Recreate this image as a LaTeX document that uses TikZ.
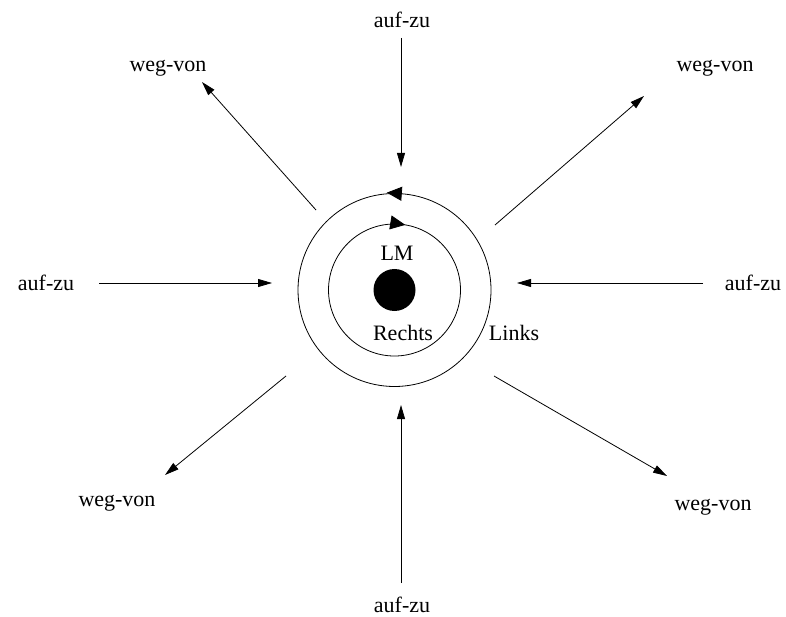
\documentclass[tikz,border=0pt]{standalone}
\usepackage{fontspec}
\setmainfont{Liberation Serif}
\usetikzlibrary{arrows.meta,decorations.markings}
\tikzset{
  lbl/.style={font=\fontsize{22}{26}\selectfont, inner sep=0pt},
  arr/.style={-{Triangle[length=14pt,width=8pt]}, line width=0.8pt},
  ring/.style={line width=0.8pt},
  ringarr/.style={ring, postaction={decorate}, decoration={markings, mark=at position #1 with {\arrow{Triangle[length=15pt,width=14pt]}}}},
  ringarrrev/.style={ring, postaction={decorate}, decoration={markings, mark=at position #1 with {\arrow{Triangle[length=15pt,width=14pt,reversed]}}}}
}
\begin{document}
\begin{tikzpicture}[x=1pt, y=-1pt]
  \useasboundingbox (0,0) rectangle (786,617);
  % centre
  \node[circle, fill=black, minimum size=42pt, inner sep=0pt] (lm) at (394.5,290) {};
  \draw[ringarrrev=0.762] (lm) circle[radius=96.5];
  \draw[ringarr=0.776] (lm) circle[radius=66];
  \node[lbl] (lmtxt) at (397,253) {LM};
  \node[lbl] (re) at (403,333) {Rechts};
  \node[lbl] (li) at (514,333) {Links};
  % labels
  \node[lbl] (az-n) at (402,20) {auf-zu};
  \node[lbl] (az-s) at (402,605) {auf-zu};
  \node[lbl] (az-w) at (46,283) {auf-zu};
  \node[lbl] (az-e) at (753,283) {auf-zu};
  \node[lbl] (wv-nw) at (168,68) {weg-von};
  \node[lbl] (wv-ne) at (715,68) {weg-von};
  \node[lbl] (wv-sw) at (117,503) {weg-von};
  \node[lbl] (wv-se) at (713,507) {weg-von};
  % arrow ends
  \coordinate (n-t) at (401,38);   \coordinate (n-h) at (401,167);
  \coordinate (s-t) at (401,583);  \coordinate (s-h) at (401,405);
  \coordinate (w-t) at (99,283);   \coordinate (w-h) at (272,283);
  \coordinate (e-t) at (703,283);  \coordinate (e-h) at (517,283);
  \coordinate (nw-t) at (316,210); \coordinate (nw-h) at (202,82);
  \coordinate (ne-t) at (495,225); \coordinate (ne-h) at (644,96);
  \coordinate (sw-t) at (286,376); \coordinate (sw-h) at (165,475);
  \coordinate (se-t) at (494,376); \coordinate (se-h) at (667,476);
  \foreach \d in {n,s,w,e,nw,ne,sw,se} \draw[arr] (\d-t) -- (\d-h);
\end{tikzpicture}
\end{document}
